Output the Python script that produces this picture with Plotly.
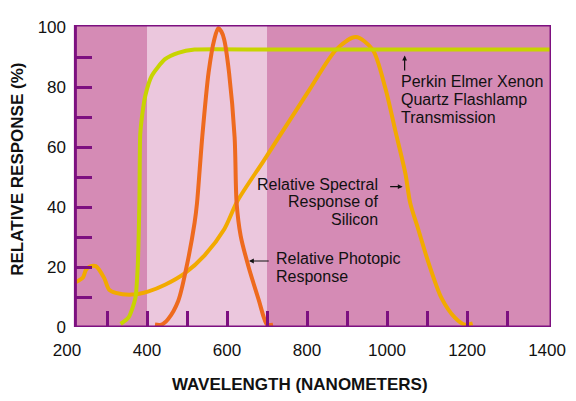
import plotly.graph_objects as go

# ---------------- data ----------------
xenon_nm = [334, 354, 371, 377, 381, 383, 387, 396, 412, 445, 478, 519, 700, 1000, 1408]
xenon_val = [1.0, 3.2, 9.7, 20.7, 42.4, 64.2, 69.7, 77.3, 83.8, 89.3, 91.4, 92.5, 92.5, 92.5, 92.5]

photopic_nm = [420, 436, 453, 478, 498, 519, 525, 538, 554, 568, 578, 586, 593, 605, 619, 624, 634, 655, 680, 692, 700, 715]
photopic_val = [0.8, 0.8, 2.7, 8.7, 19.5, 34.8, 41.3, 63.2, 84.9, 95.8, 99.6, 98.5, 95.8, 84.9, 63.2, 41.3, 30.5, 19.5, 8.7, 3.2, 0.8, 0.8]

silicon_nm = [221, 240, 247, 256, 272, 293, 305, 322, 362, 404, 445, 494, 544, 593, 626, 692, 749, 807, 873, 922,
              964, 996, 1021, 1046, 1058, 1078, 1103, 1136, 1169, 1194, 1214]
silicon_val = [14.9, 16.5, 19.0, 20.1, 20.3, 16.3, 12.5, 11.4, 10.8, 11.9, 14.1, 17.9, 23.9, 32.6, 42.0, 55.5, 67.3, 79.3,
               92.5, 96.7, 92.5, 79.5, 65.3, 51.1, 41.3, 32.6, 21.7, 9.7, 3.2, 0.8, 1.2]

x_tick_labels = [200, 400, 600, 800, 1000, 1200, 1400]
x_minor_ticks = [300, 400, 500, 600, 700, 800, 900, 1000, 1100, 1200, 1300]
y_tick_labels = [0, 20, 40, 60, 80, 100]
y_minor_ticks = [10, 20, 30, 40, 50, 60, 70, 80, 90]
visible_band = [400, 700]
frame_x = [221, 1410]
frame_top = 100.7

# ---------------- style ----------------
DARK = "#D58BB5"
LIGHT = "#EBC7DD"
PURPLE = "#7D1080"
XENON = "#C8D400"
PHOTO = "#EE6A1E"
SILI = "#F2AA00"
FONT = "Liberation Sans, Arial, sans-serif"

# page body has an 8px margin -> figure drawn 8px smaller and offset
OFF = 8
W, H = 576 - OFF, 401 - OFF
ML, MT = 67 - OFF, 18 - OFF
pw, ph = 490, 309
MR, MB = W - ML - pw, H - MT - ph

fig = go.Figure()
fig.add_trace(go.Scatter(x=silicon_nm, y=silicon_val, mode="lines", line=dict(color=SILI, width=4, shape="spline", smoothing=0.8),
                         hoverinfo="skip", showlegend=False))
fig.add_trace(go.Scatter(x=xenon_nm, y=xenon_val, mode="lines", line=dict(color=XENON, width=4, shape="spline", smoothing=0.6),
                         hoverinfo="skip", showlegend=False))
fig.add_trace(go.Scatter(x=photopic_nm, y=photopic_val, mode="lines", line=dict(color=PHOTO, width=4, shape="spline", smoothing=0.8),
                         hoverinfo="skip", showlegend=False))

shapes = [
    dict(type="rect", xref="x", yref="y", x0=frame_x[0], x1=frame_x[1], y0=0, y1=frame_top,
         fillcolor=DARK, line=dict(width=0), layer="below"),
    dict(type="rect", xref="x", yref="y", x0=visible_band[0], x1=visible_band[1], y0=0, y1=frame_top,
         fillcolor=LIGHT, line=dict(width=0), layer="below"),
    dict(type="rect", xref="x", yref="y", x0=frame_x[0], x1=frame_x[1], y0=0, y1=frame_top,
         fillcolor="rgba(0,0,0,0)", line=dict(color=PURPLE, width=3), layer="above"),
]

annotations = []
def txt(s, x, y, xanchor):
    annotations.append(dict(text=s, x=x, y=y, xref="x", yref="y", xanchor=xanchor, yanchor="middle",
                            showarrow=False, font=dict(family=FONT, size=16, color="#111111")))

for i, s in enumerate(["Perkin Elmer Xenon", "Quartz Flashlamp", "Transmission"]):
    txt(s, 1030, 81.8 - i * 5.9, "left")
for i, s in enumerate(["Relative Spectral", "Response of", "Silicon"]):
    txt(s, 983, 47.5 - i * 5.8, "right")
for i, s in enumerate(["Relative Photopic", "Response"]):
    txt(s, 718, 22.7 - i * 5.9, "left")

# arrows
annotations.append(dict(x=1044, y=90.5, ax=1044, ay=85.0, xref="x", yref="y", axref="x", ayref="y", text="",
                        showarrow=True, arrowhead=2, arrowsize=0.8, arrowwidth=1.2, arrowcolor="#111111"))
annotations.append(dict(x=1039, y=46.8, ax=1004, ay=46.8, xref="x", yref="y", axref="x", ayref="y", text="",
                        showarrow=True, arrowhead=2, arrowsize=0.8, arrowwidth=1.2, arrowcolor="#111111"))
annotations.append(dict(x=655, y=22.0, ax=708, ay=22.0, xref="x", yref="y", axref="x", ayref="y", text="",
                        showarrow=True, arrowhead=2, arrowsize=0.8, arrowwidth=1.2, arrowcolor="#111111"))

# axis titles (positions given in screen pixels)
annotations.append(dict(text="<b>WAVELENGTH (NANOMETERS)</b>", x=303, y=386, xref="paper", yref="paper", showarrow=False,
                        font=dict(family=FONT, size=17, color="#111111"), xanchor="center", yanchor="middle"))
annotations.append(dict(text="<b>RELATIVE RESPONSE (%)</b>", x=17.5, y=166, xref="paper", yref="paper", showarrow=False,
                        textangle=-90, font=dict(family=FONT, size=17, color="#111111"), xanchor="center", yanchor="middle"))

for a in annotations:
    if a.get("xref") == "paper":
        a["x"] = (a["x"] - OFF - ML) / pw
        a["y"] = 1 - (a["y"] - OFF - MT) / ph

xr = [200, 200 + pw / 0.405]
fig.update_layout(
    width=W, height=H,
    margin=dict(l=ML, r=MR, t=MT, b=MB, pad=0),
    paper_bgcolor="white", plot_bgcolor="white",
    font=dict(family=FONT, size=17, color="#111111"),
    xaxis=dict(range=xr, tickvals=x_tick_labels, ticks="", showline=False, showgrid=False, zeroline=False,
               tickfont=dict(size=17), ticklabelstandoff=11, fixedrange=True),
    xaxis2=dict(range=xr, overlaying="x", anchor="y", side="bottom", tickvals=x_minor_ticks, showticklabels=False,
                ticks="inside", ticklen=16, tickwidth=3, tickcolor=PURPLE, showline=False, showgrid=False, zeroline=False),
    yaxis=dict(range=[0, frame_top], tickvals=y_tick_labels, ticks="", showline=False, showgrid=False, zeroline=False,
               tickfont=dict(size=17)),
    yaxis2=dict(range=[0, frame_top], overlaying="y", anchor="free", position=(frame_x[0] - xr[0]) / (xr[1] - xr[0]),
                side="left", tickvals=y_minor_ticks, showticklabels=False, ticks="inside", ticklen=16, tickwidth=3,
                tickcolor=PURPLE, showline=False, showgrid=False, zeroline=False),
    shapes=shapes,
    annotations=annotations,
)
fig.add_trace(go.Scatter(x=[None], y=[None], xaxis="x2", yaxis="y2", showlegend=False, hoverinfo="skip"))

fig.write_html("out.html")
